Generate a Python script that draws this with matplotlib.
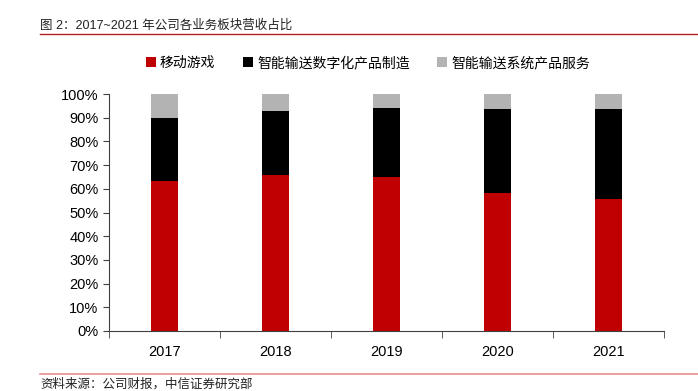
import matplotlib.pyplot as plt
import numpy as np
from matplotlib.ticker import FuncFormatter

plt.rcParams['font.family'] = ['Liberation Sans', 'Noto Sans CJK SC', 'DejaVu Sans']

# Daten
years = ["2017", "2018", "2019", "2020", "2021"]
games = [63.3, 65.8, 64.9, 58.1, 55.6]          # 移动游戏
digital = [26.7, 26.9, 29.1, 35.6, 38.2]        # 智能输送数字化产品制造
system = [10.0, 7.3, 6.0, 6.3, 6.2]             # 智能输送系统产品服务
series_names = ["移动游戏", "智能输送数字化产品制造", "智能输送系统产品服务"]
colors = ["#c00000", "#000000", "#b3b3b3"]

fig = plt.figure(figsize=(6.98, 3.91), dpi=100)
ax = fig.add_axes([109 / 698, 1 - 331 / 391, (664 - 109) / 698, (331 - 94) / 391])

x = np.arange(len(years))
w = 0.25
bottom = np.zeros(len(years))
for vals, name, c in zip([games, digital, system], series_names, colors):
    ax.bar(x, vals, w, bottom=bottom, color=c, label=name, edgecolor="none")
    bottom += np.array(vals)

ax.set_xlim(-0.5, len(years) - 0.5)
ax.set_ylim(0, 100)
ax.set_yticks(np.arange(0, 101, 10))
ax.yaxis.set_major_formatter(FuncFormatter(lambda v, _: f"{v:.0f}%"))
ax.set_xticks(x)
ax.set_xticklabels(years)
ax.set_xticks(np.arange(-0.5, len(years), 1), minor=True)
ax.tick_params(axis="x", which="major", length=0, pad=10, labelsize=10.5)
ax.tick_params(axis="x", which="minor", length=5, color="#404040")
ax.tick_params(axis="y", length=4, color="#404040", labelsize=10.5)
for s in ["top", "right"]:
    ax.spines[s].set_visible(False)
ax.spines["left"].set_color("#404040")
ax.spines["bottom"].set_color("#404040")

leg = fig.legend(loc="center", bbox_to_anchor=(368 / 698, 1 - 63 / 391), ncol=3,
                 frameon=False, fontsize=10, handlelength=0.7, handleheight=0.7,
                 handletextpad=0.3, columnspacing=2.0)

# Titel und Quelle
fig.text(40 / 698, 1 - 26 / 391, "图 2：2017~2021 年公司各业务板块营收占比", fontsize=9,
         va="center", ha="left", color="#222222")
fig.add_artist(plt.Line2D([40 / 698, 1], [1 - 34 / 391, 1 - 34 / 391], color="#b22222", lw=1))
fig.add_artist(plt.Line2D([40 / 698, 1], [1 - 374 / 391, 1 - 374 / 391], color="#e89090", lw=1.2))
fig.text(40 / 698, 1 - 384 / 391, "资料来源：公司财报，中信证券研究部", fontsize=9,
         va="center", ha="left", color="#222222")

fig.savefig("out.png", dpi=100)
